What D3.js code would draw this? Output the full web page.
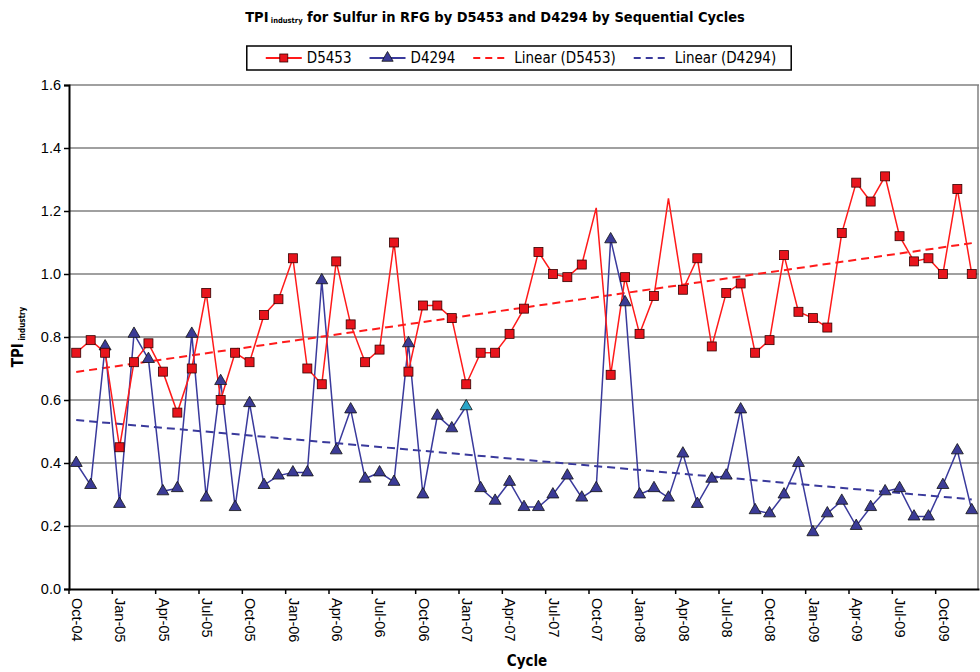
<!DOCTYPE html>
<meta charset="utf-8">
<style>

body {
  margin: 0;
  background: #fff;
  font-family: "DejaVu Sans Condensed", "DejaVu Sans", Tahoma, sans-serif;
}

.title { font-size: 14.5px; font-weight: bold; }
.legend text { font-size: 15px; }
.axis text { font-size: 14.5px; fill: #000; }
.axis-title { font-size: 15px; font-weight: bold; }
.grid line { stroke: #808080; stroke-width: 1.5px; }

</style>
<body>
<script src="https://cdn.jsdelivr.net/npm/d3@7"></script>
<script>

var months = [
  "Oct-04","Nov-04","Dec-04",
  "Jan-05","Feb-05","Mar-05","Apr-05","May-05","Jun-05","Jul-05","Aug-05","Sep-05","Oct-05","Nov-05","Dec-05",
  "Jan-06","Feb-06","Mar-06","Apr-06","May-06","Jun-06","Jul-06","Aug-06","Sep-06","Oct-06","Nov-06","Dec-06",
  "Jan-07","Feb-07","Mar-07","Apr-07","May-07","Jun-07","Jul-07","Aug-07","Sep-07","Oct-07","Nov-07","Dec-07",
  "Jan-08","Feb-08","Mar-08","Apr-08","May-08","Jun-08","Jul-08","Aug-08","Sep-08","Oct-08","Nov-08","Dec-08",
  "Jan-09","Feb-09","Mar-09","Apr-09","May-09","Jun-09","Jul-09","Aug-09","Sep-09","Oct-09","Nov-09","Dec-09"
];

var d5453 = [
  0.75, 0.79, 0.75, 0.45, 0.72, 0.78, 0.69, 0.56, 0.70, 0.94, 0.60, 0.75,
  0.72, 0.87, 0.92, 1.05, 0.70, 0.65, 1.04, 0.84, 0.72, 0.76, 1.10, 0.69,
  0.90, 0.90, 0.86, 0.65, 0.75, 0.75, 0.81, 0.89, 1.07, 1.00, 0.99, 1.03,
  1.21, 0.68, 0.99, 0.81, 0.93, 1.24, 0.95, 1.05, 0.77, 0.94, 0.97, 0.75, 0.79,
  1.06, 0.88, 0.86, 0.83, 1.13, 1.29, 1.23, 1.31, 1.12, 1.04, 1.05, 1.00, 1.27, 1.00
];

var d4294 = [
  0.40, 0.33, 0.77, 0.27, 0.81, 0.73, 0.31, 0.32, 0.81, 0.29, 0.66, 0.26,
  0.59, 0.33, 0.36, 0.37, 0.37, 0.98, 0.44, 0.57, 0.35, 0.37, 0.34, 0.78,
  0.30, 0.55, 0.51, 0.58, 0.32, 0.28, 0.34, 0.26, 0.26, 0.30, 0.36, 0.29,
  0.32, 1.11, 0.91, 0.30, 0.32, 0.29, 0.43, 0.27, 0.35, 0.36, 0.57, 0.25, 0.24,
  0.30, 0.40, 0.18, 0.24, 0.28, 0.20, 0.26, 0.31, 0.32, 0.23, 0.23, 0.33, 0.44, 0.25
];

// points drawn without a marker / with the odd cyan marker in the original
var d5453NoMarker = ["Oct-07", "Mar-08"];
var d4294Highlight = ["Jan-07"];

var yTicks = [0, 0.2, 0.4, 0.6, 0.8, 1.0, 1.2, 1.4, 1.6];

var margin = {top: 85, right: 1, bottom: 83, left: 69},
    width = 980 - margin.left - margin.right,
    height = 672 - margin.top - margin.bottom;

var red = "#ff1a1a", redFill = "#e8141c",
    blue = "#3a3a9c", blueFill = "#3b3b96";

var svg = d3.select("body").append("svg")
    .attr("width", 980)
    .attr("height", 672);

var g = svg.append("g")
    .attr("transform", "translate(" + margin.left + "," + margin.top + ")");

var x = d3.scaleBand().domain(months).range([0, width]).padding(0);
var y = d3.scaleLinear().domain([0, 1.6]).range([height, 0]);
var cx = function(m) { return x(m) + x.bandwidth() / 2; };

// grid
g.append("g").attr("class", "grid")
  .selectAll("line")
    .data(yTicks.slice(1))
  .enter().append("line")
    .attr("x1", 0).attr("x2", width)
    .attr("y1", y).attr("y2", y);

g.append("line")
    .attr("x1", width - 1).attr("x2", width - 1)
    .attr("y1", 0).attr("y2", height)
    .attr("stroke", "#808080").attr("stroke-width", 1.5);

// y axis
var yAxis = g.append("g").attr("class", "axis")
    .call(d3.axisLeft(y).tickValues(yTicks).tickFormat(d3.format(".1f")).tickSize(5).tickPadding(3));
yAxis.select(".domain").attr("stroke", "#000").attr("stroke-width", 2);
yAxis.selectAll(".tick line").attr("stroke", "#000").attr("stroke-width", 1.5);

// x axis: ticks on category boundaries every 3rd month
var labelled = months.filter(function(d, i) { return i % 3 === 0; });
var xAxis = g.append("g").attr("class", "axis")
    .attr("transform", "translate(0," + height + ")")
    .call(d3.axisBottom(x).tickValues(labelled).tickSize(5).tickSizeOuter(0));
xAxis.select(".domain").attr("stroke", "#000").attr("stroke-width", 2);
xAxis.selectAll(".tick").attr("transform", function(d) { return "translate(" + x(d) + ",0)"; });
xAxis.selectAll(".tick line").attr("stroke", "#000").attr("stroke-width", 1.5);
xAxis.selectAll(".tick text")
    .attr("x", 0).attr("y", 0).attr("dy", "0.35em")
    .attr("text-anchor", "start")
    .attr("transform", "translate(" + (x.bandwidth() / 2 + 1) + ",9) rotate(90)");

// trend lines (least squares on month index)
function fit(vals) {
  var n = vals.length, sx = 0, sy = 0, sxy = 0, sxx = 0;
  vals.forEach(function(v, i) { sx += i; sy += v; sxy += i * v; sxx += i * i; });
  var b = (n * sxy - sx * sy) / (n * sxx - sx * sx);
  var a = (sy - b * sx) / n;
  return [[0, a], [n - 1, a + b * (n - 1)]];
}
var step = x.step();
var trendLine = d3.line()
    .x(function(d) { return x.bandwidth() / 2 + d[0] * step; })
    .y(function(d) { return y(d[1]); });

g.append("path").datum(fit(d5453))
    .attr("d", trendLine).attr("fill", "none")
    .attr("stroke", red).attr("stroke-width", 2).attr("stroke-dasharray", "8,5");
g.append("path").datum(fit(d4294))
    .attr("d", trendLine).attr("fill", "none")
    .attr("stroke", blue).attr("stroke-width", 2).attr("stroke-dasharray", "8,5");

// series lines
var line = d3.line()
    .x(function(d, i) { return cx(months[i]); })
    .y(function(d) { return y(d); });

g.append("path").datum(d4294)
    .attr("d", line).attr("fill", "none")
    .attr("stroke", blue).attr("stroke-width", 1.5);
g.append("path").datum(d5453)
    .attr("d", line).attr("fill", "none")
    .attr("stroke", red).attr("stroke-width", 1.5);

var tri = d3.symbol().type(d3.symbolTriangle).size(62);

g.append("g").selectAll("path")
    .data(d4294)
  .enter().append("path")
    .attr("d", tri)
    .attr("transform", function(d, i) { return "translate(" + cx(months[i]) + "," + y(d) + ")"; })
    .attr("fill", function(d, i) { return d4294Highlight.indexOf(months[i]) >= 0 ? "#2aa6c8" : blueFill; })
    .attr("stroke", "#111").attr("stroke-width", 0.8);

g.append("g").selectAll("rect")
    .data(d5453.map(function(v, i) { return {m: months[i], v: v}; })
      .filter(function(d) { return d5453NoMarker.indexOf(d.m) < 0; }))
  .enter().append("rect")
    .attr("x", function(d) { return cx(d.m) - 4.5; })
    .attr("y", function(d) { return y(d.v) - 4.5; })
    .attr("width", 9).attr("height", 9)
    .attr("fill", redFill)
    .attr("stroke", "#300").attr("stroke-width", 0.8);

// title
var title = svg.append("text").attr("class", "title")
    .attr("x", 495).attr("y", 22).attr("text-anchor", "middle");
title.append("tspan").text("TPI");
title.append("tspan").attr("font-size", "7.5px").attr("dy", "1").text(" industry");
title.append("tspan").attr("dy", "-1").text(" for Sulfur in RFG by D5453 and D4294 by Sequential Cycles");

// axis titles
var yt = svg.append("text").attr("class", "axis-title")
    .attr("transform", "translate(23," + (margin.top + height / 2) + ") rotate(-90)")
    .attr("text-anchor", "middle");
yt.append("tspan").text("TPI");
yt.append("tspan").attr("font-size", "8px").attr("dy", "2").text(" industry");

svg.append("text").attr("class", "axis-title")
    .attr("x", margin.left + width / 2 + 3).attr("y", 666)
    .attr("text-anchor", "middle")
    .text("Cycle");

// legend
var legendItems = [
  {name: "D5453", color: red, dash: null, mark: "square"},
  {name: "D4294", color: blue, dash: null, mark: "triangle"},
  {name: "Linear (D5453)", color: red, dash: "7,5", mark: null},
  {name: "Linear (D4294)", color: blue, dash: "7,5", mark: null}
];

var legend = svg.append("g").attr("class", "legend");
var box = legend.append("rect")
    .attr("fill", "#fff").attr("stroke", "#000").attr("stroke-width", 1.5);

var lx = 0;
legendItems.forEach(function(d) {
  var it = legend.append("g").attr("transform", "translate(" + lx + ",0)");
  it.append("line").attr("x1", 0).attr("x2", 36).attr("y1", 0).attr("y2", 0)
      .attr("stroke", d.color).attr("stroke-width", 2)
      .attr("stroke-dasharray", d.dash);
  if (d.mark === "square") {
    it.append("rect").attr("x", 14).attr("y", -4).attr("width", 8).attr("height", 8)
        .attr("fill", redFill).attr("stroke", "#300").attr("stroke-width", 0.8);
  } else if (d.mark === "triangle") {
    it.append("path").attr("d", d3.symbol().type(d3.symbolTriangle).size(55))
        .attr("transform", "translate(18,0)")
        .attr("fill", blueFill).attr("stroke", "#111").attr("stroke-width", 0.8);
  }
  var t = it.append("text").attr("x", 41).attr("dy", "0.35em").text(d.name);
  lx += 41 + t.node().getComputedTextLength() + 18;
});
lx -= 18;

var lw = lx + 34;
var left = 519 - lw / 2;
box.attr("x", -19).attr("y", -12).attr("width", lw).attr("height", 24);
legend.attr("transform", "translate(" + (left + 19) + ",58)");

</script>
</body>
